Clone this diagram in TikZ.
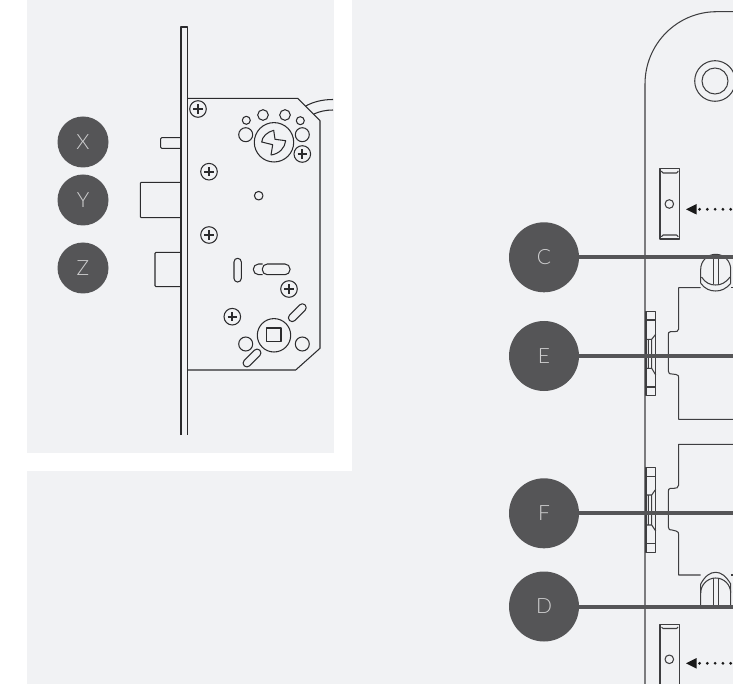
\documentclass[tikz,border=0pt]{standalone}
\usepackage{fontspec}
\setmainfont{Lato Light}
\definecolor{panelbg}{HTML}{F1F2F4}
\definecolor{badge}{HTML}{555557}
\definecolor{ink}{HTML}{2B2B2D}
\definecolor{inkb}{HTML}{3E3E40}
\tikzset{
  x=1pt,y=-1pt,
  lk/.style={draw=ink,line width=1.05pt,line join=round},
  rk/.style={draw=inkb,line width=1.05pt,line join=round},
  badgesmall/.style={circle,fill=badge,minimum size=51pt,inner sep=0pt,text=white!72!badge,font=\fontsize{21}{21}\selectfont},
  badgebig/.style={circle,fill=badge,minimum size=70pt,inner sep=0pt,text=white!72!badge,font=\fontsize{21}{21}\selectfont},
  leader/.style={draw=badge,line width=4pt},
  screwhead/.pic={
    \draw[lk] (0,0) circle (8.3);
    \draw[ink,line width=2pt] (-4.6,0) -- (4.6,0) (0,-4.6) -- (0,4.6);
  },
  dots/.style={draw=black!90,line width=3.1pt,line cap=round,dash pattern=on 0pt off 7.8pt}
}
\begin{document}
\begin{tikzpicture}
\useasboundingbox (0,0) rectangle (733,684);
\fill[white] (0,0) rectangle (733,684);
\fill[panelbg] (27,0) rectangle (334,453);
\fill[panelbg] (352,0) rectangle (733,684);
\fill[panelbg] (27,471) rectangle (733,684);

% ---- left: lock body
\draw[lk] (181,435) -- (181,27) -- (187.5,27) -- (187.5,435);
\draw[lk] (187.5,98.3) -- (297.7,98.3) -- (320,120.7) -- (320,348.3) -- (295.7,370) -- (187.5,370);
\draw[lk] (305.7,106) .. controls (313,102) and (322,99.5) .. (333,99.5);
\draw[lk] (314,114) .. controls (319,111.5) and (326,110) .. (333,110);
\draw[lk,rounded corners=1pt] (181,137.7) -- (160.7,137.7) -- (160.7,148.3) -- (181,148.3);
\draw[lk,rounded corners=1pt] (181,182.3) -- (140.3,182.3) -- (140.3,217.7) -- (181,217.7);
\draw[lk,rounded corners=1pt] (181,252.3) -- (155,252.3) -- (155,286.7) -- (181,286.7);
\foreach \px/\py in {198/109,209/171.7,209/235,302.3/154,289/289,232.3/316.7}
  \pic at (\px,\py) {screwhead};
\draw[lk] (274,142.3) circle (19.7);
\draw[lk] (246.3,120.3) circle (4) (300.3,120.7) circle (4)
          (263,115) circle (5.3) (285,115) circle (5.3)
          (245.7,134.7) circle (7) (302.3,134.7) circle (7)
          (258.7,195.7) circle (4.3);
\draw[lk] (273.7,130.3) .. controls (267,132) and (262,137) .. (261.7,142)
          -- (272.7,144.7) -- (271,155)
          .. controls (279,154) and (285,148) .. (285.7,140.7)
          -- (275,139.3) -- cycle;
\draw[lk,rounded corners=3.6pt] (234,258.3) rectangle (241.3,282);
\draw[lk] (262.5,264) -- (258.6,264) arc (-90:-270:5.35) -- (262.5,274.7);
\draw[lk,rounded corners=5pt] (262.3,264) rectangle (290,274.7);
\draw[lk] (274,335.3) circle (16.7);
\draw[lk] (266.7,328) rectangle (281,341.7);
\draw[lk] (245.7,344) circle (7) (302.3,344) circle (7);
\draw[lk,rounded corners=3.7pt,rotate around={45:(297.3,312.7)}] (286.3,308.9) rectangle (308.3,316.5);
\draw[lk,rounded corners=3.7pt,rotate around={45:(252,358)}] (241,354.2) rectangle (263,361.8);

% ---- right: faceplate
\draw[rk] (733,11.7) -- (716.7,11.7) .. controls (677,11.7) and (645,44) .. (645,84) -- (645,684);
\draw[rk] (715,81) circle (20.3) (715,81) circle (13);

% upper slot
\draw[rk] (660,168.3) rectangle (679.3,239);
\draw[rk,rounded corners=1.5pt] (661.5,171) -- (661.5,173) -- (678,173) -- (678,171);
\draw[rk,rounded corners=1.5pt] (661.5,237) -- (661.5,235) -- (678,235) -- (678,237);
\draw[rk] (669.3,204) circle (4.3);
% lower slot
\draw[rk] (660,684) -- (660,624.3) -- (679.3,624.3) -- (679.3,684);
\draw[rk,rounded corners=1.5pt] (661.5,627) -- (661.5,628.5) -- (678,628.5) -- (678,627);
\draw[rk] (669.3,659.3) circle (4.3);

% arrows
\coordinate (upB) at (686,209.3);
\coordinate (loB) at (686,663.3);
\fill[black!90] (upB) -- (696.7,204) -- (696.7,214.6) -- cycle;
\fill[black!90] (loB) -- (696.7,658) -- (696.7,668.6) -- cycle;
\draw[dots] (730.7,209.3) -- (699.5,209.3);
\draw[dots] (730.7,663.3) -- (699.5,663.3);

% upper screw
\draw[rk] (700.7,283.3) -- (700.7,269.3) arc (180:360:15) -- (730.7,283.3);
\draw[rk] (700.7,283.3) .. controls (705,289) and (710,291) .. (715.7,291) .. controls (721,291) and (726,289) .. (730.7,283.3);
\draw[rk] (701.5,277) .. controls (705.5,283) and (710,285) .. (715.7,285) .. controls (721,285) and (725.5,283) .. (730,277);
\draw[rk] (713.3,254.5) -- (713.3,284.5) (718.7,254.5) -- (718.7,284.5);
% upper body
\draw[rk] (700.7,287.7) -- (678.7,287.7) -- (678.7,329) .. controls (678.7,331.5) and (676,331.7) .. (674,331.7) -- (670.5,331.7) .. controls (668.5,331.7) and (668.3,333) .. (668.3,335) -- (668.3,371) .. controls (668.3,374) and (670,374) .. (672,374) -- (676,374.5) .. controls (678.5,375) and (678.7,376) .. (678.7,378) -- (678.7,419.3) -- (733,419.3);
\draw[rk] (731.2,287.7) -- (733,287.7);
% upper latch
\draw[rk] (646,311.3) rectangle (655.7,395.7);
\draw[rk] (646,320) -- (655.7,320) (646,387) -- (655.7,387);
\draw[rk] (655.7,334.3) -- (651.7,339.3) -- (646,339.3) (651.7,339.3) -- (651.7,368.3) -- (655.7,375) (646,368.3) -- (651.7,368.3) (648.3,339.3) -- (648.3,368.3);

% lower latch
\draw[rk] (646,467.3) rectangle (655.7,552.3);
\draw[rk] (646,476.7) -- (655.7,476.7) (646,543.3) -- (655.7,543.3);
\draw[rk] (655.7,489.3) -- (651.7,495) -- (646,495) (651.7,495) -- (651.7,525) -- (655.7,531) (646,525) -- (651.7,525) (648.3,495) -- (648.3,525);
% lower body
\draw[rk] (733,444.3) -- (678.7,444.3) -- (678.7,485) .. controls (678.7,488) and (676,488.3) .. (674,488.3) -- (670.5,488.3) .. controls (668.5,488.3) and (668.3,490) .. (668.3,492) -- (668.3,527) .. controls (668.3,530) and (670,530) .. (672,530) -- (676,531) .. controls (678.5,531.5) and (678.7,533) .. (678.7,535) -- (678.7,575) -- (700.7,575);
\draw[rk] (731.2,575) -- (733,575);
% lower screw
\draw[rk] (700.7,605) -- (700.7,584) .. controls (705,576) and (710,572.3) .. (715.7,572.3) .. controls (721,572.3) and (726,576) .. (730.7,584) -- (730.7,605);
\draw[rk] (700.7,593) arc (180:360:15);
\draw[rk] (713.3,578.3) -- (713.3,608) (718.7,578.3) -- (718.7,608);

% ---- badges and leaders
\node[badgesmall] (X) at (83,142) {X};
\node[badgesmall] (Y) at (83,200) {Y};
\node[badgesmall] (Z) at (83,268) {Z};
\node[badgebig] (C) at (544,257.3) {C};
\node[badgebig] (E) at (544,356) {E};
\node[badgebig] (F) at (544,513.3) {F};
\node[badgebig] (D) at (544,606.5) {D};
\coordinate (Cend) at (733,257.3);
\coordinate (Eend) at (733,356);
\coordinate (Fend) at (733,513.3);
\coordinate (Dend) at (733,606.5);
\draw[leader] (C) -- (Cend);
\draw[leader] (E) -- (Eend);
\draw[leader] (F) -- (Fend);
\draw[leader] (D) -- (Dend);
\end{tikzpicture}
\end{document}
